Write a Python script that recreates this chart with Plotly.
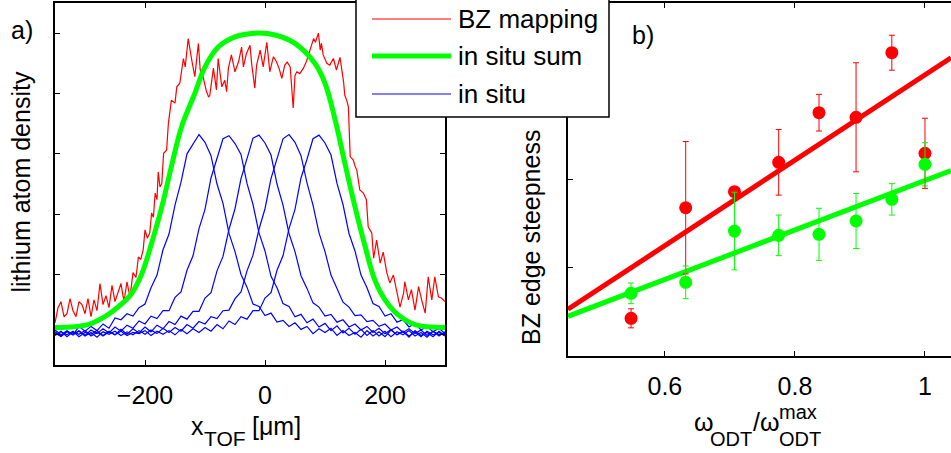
import plotly.graph_objects as go

# ---------------- panel a data (x in um, density in arb. units) ----------------
red_x = [-350, -345, -340, -335, -330, -325, -320, -315, -310, -305, -300, -295, -290, -285, -280,
         -275, -270, -265, -260, -255, -250, -245, -240, -235, -230, -225, -220, -215, -211, -207,
         -203, -200, -196, -192, -189, -186, -183, -180, -178, -175, -172, -169, -164, -161, -156,
         -150, -147, -142, -136, -133, -128, -122, -117, -111, -108, -103, -98, -94, -92, -86,
         -81, -78, -72, -67, -64, -61, -56, -50, -44, -39, -36, -31, -25, -22, -17,
         -14, -8, -3, 3, 8, 14, 19, 24, 28, 33, 37, 42, 47, 50, 53,
         58, 64, 69, 75, 81, 84, 89, 92, 94, 97, 103, 108, 114, 119, 125,
         131, 133, 136, 139, 142, 147, 150, 153, 158, 164, 169, 172, 178, 181, 186,
         192, 197, 203, 208, 214, 219, 225, 231, 233, 239, 244, 250, 256, 261, 267,
         272, 278, 283, 289, 294, 300]
red_y = [0.20, 0.45, 0.55, 0.30, 0.35, 0.60, 0.40, 0.30, 0.55, 0.50, 0.35, 0.60, 0.30, 0.58, 0.40,
         0.85, 0.50, 0.65, 0.45, 0.82, 0.55, 0.70, 0.85, 0.55, 0.88, 0.62, 1.03, 0.95, 1.29, 1.25,
         1.41, 1.74, 1.60, 1.69, 2.02, 1.95, 2.35, 2.24, 2.70, 2.45, 2.51, 3.01, 3.06, 3.51, 3.89,
         3.84, 4.11, 4.17, 4.58, 4.44, 4.91, 4.55, 4.28, 4.83, 4.39, 4.27, 4.05, 3.94, 3.97, 4.42,
         4.06, 4.58, 4.11, 4.22, 4.03, 4.42, 4.64, 4.36, 4.53, 4.77, 4.44, 4.66, 4.80, 4.47, 4.09,
         4.47, 4.72, 4.44, 4.85, 4.36, 4.61, 4.53, 4.40, 4.25, 4.47, 4.52, 4.44, 3.76, 4.30, 4.36,
         4.33, 4.42, 4.53, 4.72, 4.91, 4.85, 5.00, 4.72, 4.83, 4.64, 4.50, 4.47, 4.58, 4.39, 4.60,
         4.19, 3.97, 3.89, 3.78, 2.95, 2.90, 2.80, 2.73, 2.40, 2.35, 2.24, 1.79, 1.69, 1.27, 1.57,
         1.19, 1.37, 1.03, 0.86, 0.99, 0.75, 0.46, 0.69, 0.88, 0.58, 0.75, 0.41, 0.80, 0.58, 0.36,
         0.96, 0.58, 0.96, 0.63, 0.61, 0.55]

green_x = [-350, -295, -267, -238, -222, -205, -189, -172, -156, -139, -117, -100, -78, -50,
           -17, 17, 50, 83, 100, 117, 133, 150, 167, 183, 200, 222, 250, 300]
green_y = [0.12, 0.17, 0.30, 0.52, 0.69, 1.02, 1.52, 2.12, 2.79, 3.45, 4.00, 4.44, 4.77, 4.94,
           5.00, 4.97, 4.83, 4.50, 4.17, 3.56, 2.85, 2.12, 1.46, 0.91, 0.58, 0.33, 0.17, 0.12]

blue_x = [-350, -340, -330, -320, -310, -300, -290, -280, -270, -260, -250, -240, -230, -220,
          -210, -200, -190, -180, -170, -160, -150, -140, -130, -120, -110, -100, -90, -80,
          -70, -60, -50, -40, -30, -20, -10, 0, 10, 20, 30, 40, 50, 60, 70, 80, 90, 100,
          110, 120, 130, 140, 150, 160, 170, 180, 190, 200, 210, 220, 230, 240, 250, 260,
          270, 280, 290, 300]
blue_1 = [0.08, 0.00, 0.07, 0.00, 0.14, 0.06, 0.14, 0.07, 0.18, 0.11, 0.28, 0.25, 0.35, 0.31,
          0.45, 0.51, 0.78, 0.99, 1.41, 1.67, 2.15, 2.53, 3.00, 3.16, 3.32, 3.19, 2.97, 2.50,
          2.18, 1.68, 1.38, 1.00, 0.79, 0.51, 0.47, 0.32, 0.36, 0.21, 0.24, 0.14, 0.20, 0.09,
          0.14, 0.02, 0.10, 0.04, 0.11, -0.01, 0.07, -0.01, 0.04, -0.04, 0.07, -0.02, 0.05,
          -0.03, 0.08, 0.00, 0.06, -0.04, 0.07, -0.01, 0.04, -0.03, 0.06, -0.01]
blue_2 = [0.05, -0.02, 0.06, 0.01, 0.07, -0.01, 0.08, 0.02, 0.10, 0.03, 0.13, 0.06, 0.16, 0.11,
          0.23, 0.18, 0.31, 0.27, 0.40, 0.40, 0.62, 0.71, 1.07, 1.31, 1.76, 2.08, 2.60, 2.91,
          3.25, 3.30, 3.17, 2.99, 2.51, 2.16, 1.69, 1.39, 0.97, 0.78, 0.52, 0.47, 0.30, 0.34,
          0.20, 0.26, 0.13, 0.19, 0.07, 0.15, 0.03, 0.11, 0.01, 0.09, -0.01, 0.07, -0.02,
          0.06, -0.03, 0.05, 0.00, 0.07, -0.02, 0.04, -0.04, 0.06, 0.00, 0.03]
blue_3 = [0.00, 0.06, -0.03, 0.05, 0.01, 0.07, -0.02, 0.04, -0.01, 0.06, 0.00, 0.09, 0.01, 0.10,
          0.03, 0.13, 0.05, 0.16, 0.10, 0.22, 0.17, 0.31, 0.26, 0.39, 0.39, 0.61, 0.70, 1.06,
          1.30, 1.75, 2.09, 2.59, 2.92, 3.26, 3.31, 3.18, 2.98, 2.50, 2.15, 1.68, 1.38, 0.98,
          0.77, 0.53, 0.46, 0.31, 0.34, 0.21, 0.25, 0.13, 0.18, 0.08, 0.14, 0.04, 0.11, 0.02,
          0.09, 0.00, 0.06, -0.02, 0.05, -0.03, 0.06, 0.00, 0.04, -0.02]
blue_4 = [0.03, -0.03, 0.05, 0.00, 0.06, -0.02, 0.04, -0.04, 0.05, 0.01, 0.06, -0.01, 0.05, 0.00,
          0.07, 0.01, 0.08, 0.02, 0.11, 0.04, 0.12, 0.06, 0.17, 0.11, 0.22, 0.18, 0.30, 0.27,
          0.40, 0.41, 0.60, 0.71, 1.06, 1.32, 1.75, 2.09, 2.59, 2.93, 3.25, 3.32, 3.19, 2.97,
          2.52, 2.15, 1.69, 1.38, 0.99, 0.77, 0.54, 0.46, 0.32, 0.33, 0.22, 0.24, 0.14, 0.18,
          0.08, 0.13, 0.04, 0.10, 0.02, 0.08, -0.01, 0.06, -0.02, 0.05]
blue_5 = [-0.01, 0.05, 0.00, 0.06, -0.03, 0.04, 0.01, 0.07, -0.02, 0.05, 0.00, 0.06, -0.01, 0.04,
          0.02, 0.07, -0.01, 0.06, 0.01, 0.07, 0.00, 0.09, 0.02, 0.10, 0.04, 0.12, 0.06, 0.17,
          0.10, 0.23, 0.17, 0.30, 0.26, 0.40, 0.40, 0.61, 0.70, 1.07, 1.31, 1.76, 2.08, 2.60,
          2.91, 3.25, 3.31, 3.18, 2.98, 2.51, 2.16, 1.68, 1.39, 0.99, 0.78, 0.52, 0.47, 0.31,
          0.35, 0.21, 0.25, 0.13, 0.19, 0.08, 0.14, 0.05, 0.11, 0.02]
blue_curves = [blue_1, blue_2, blue_3, blue_4, blue_5]

# ---------------- panel b data ----------------
omega_ratio = [0.548, 0.632, 0.707, 0.775, 0.837, 0.894, 0.949, 1.000]
bz_steep = [0.427, 1.680, 1.862, 2.195, 2.757, 2.705, 3.437, 2.297]
bz_err = [0.108, 0.750, 0.050, 0.372, 0.208, 0.618, 0.198, 0.397]
insitu_steep = [0.710, 0.835, 1.416, 1.367, 1.379, 1.530, 1.775, 2.172]
insitu_err = [0.117, 0.185, 0.440, 0.230, 0.295, 0.312, 0.178, 0.245]
fit_x = [0.451, 1.040]
bz_fit = [0.53, 3.38]
insitu_fit = [0.45, 2.10]

RED = "#ff0000"
GREEN = "#00ff00"
BLUE = "#0000ff"
FONT = "Liberation Sans, Arial, Helvetica, sans-serif"

W, H = 951, 453
MT, MB = 3, 88
PH = H - MT - MB


def px(x):
    return x / W


def py(y):
    return (H - MB - y) / PH


fig = go.Figure()

for yb in blue_curves:
    fig.add_trace(go.Scatter(x=blue_x, y=yb, mode="lines", line=dict(color=BLUE, width=1.2),
                             xaxis="x", yaxis="y", showlegend=False, hoverinfo="skip"))
fig.add_trace(go.Scatter(x=red_x, y=red_y, mode="lines", line=dict(color=RED, width=1.2),
                         xaxis="x", yaxis="y", showlegend=False))
fig.add_trace(go.Scatter(x=green_x, y=green_y, mode="lines",
                         line=dict(color=GREEN, width=5, shape="spline", smoothing=1.0),
                         xaxis="x", yaxis="y", showlegend=False))

fig.add_trace(go.Scatter(x=fit_x, y=bz_fit, mode="lines", line=dict(color=RED, width=5),
                         xaxis="x2", yaxis="y2", showlegend=False))
fig.add_trace(go.Scatter(x=fit_x, y=insitu_fit, mode="lines", line=dict(color=GREEN, width=5),
                         xaxis="x2", yaxis="y2", showlegend=False))
fig.add_trace(go.Scatter(x=omega_ratio, y=bz_steep, mode="markers",
                         marker=dict(color=RED, size=13),
                         error_y=dict(type="data", array=bz_err, color=RED, thickness=1, width=3),
                         xaxis="x2", yaxis="y2", showlegend=False))
fig.add_trace(go.Scatter(x=omega_ratio, y=insitu_steep, mode="markers",
                         marker=dict(color=GREEN, size=13),
                         error_y=dict(type="data", array=insitu_err, color=GREEN, thickness=1, width=3),
                         xaxis="x2", yaxis="y2", showlegend=False))

axis_common = dict(showline=True, linecolor="black", linewidth=1.5, ticks="inside", ticklen=5,
                   tickwidth=1, tickcolor="black", showgrid=False, zeroline=False,
                   tickfont=dict(family=FONT, size=25, color="black"))

fig.update_layout(
    width=W, height=H,
    margin=dict(l=0, r=0, t=MT, b=MB),
    paper_bgcolor="white", plot_bgcolor="white",
    showlegend=False,
    xaxis=dict(domain=[px(55), px(445)], range=[-350, 300], tickvals=[-200, 0, 200],
               mirror="ticks", anchor="y", ticklabelstandoff=7, **axis_common),
    yaxis=dict(domain=[0, 1], range=[-0.5, 5.5], tickvals=[0, 1, 2, 3, 4, 5],
               showticklabels=False, mirror="ticks", anchor="x", **axis_common),
    xaxis2=dict(domain=[px(568), 1.0], range=[0.451, 1.040], tickvals=[0.6, 0.8, 1.0],
                ticktext=["0.6", "0.8", "1"], mirror="ticks", anchor="y2",
                ticklabelstandoff=7, **axis_common),
    yaxis2=dict(domain=[py(356), 1], range=[0, 4], tickvals=[1, 2, 3],
                showticklabels=False, mirror=False, anchor="x2", **axis_common),
)

# legend (drawn manually so that the sample lines match the original length)
fig.add_shape(type="rect", xref="paper", yref="paper", x0=px(356), x1=px(609), y0=py(117), y1=py(-3),
              fillcolor="white", line=dict(color="black", width=1.5), layer="above")
for yy, col, wd in [(19, RED, 1.2), (56, GREEN, 5), (94, BLUE, 1.2)]:
    fig.add_shape(type="line", xref="paper", yref="paper", x0=px(372), x1=px(451), y0=py(yy), y1=py(yy),
                  line=dict(color=col, width=wd), layer="above")

ann = []


def txt(text, x, y, size=25, xanchor="left", textangle=0):
    ann.append(dict(text=text, x=px(x), y=py(y), xref="paper", yref="paper", showarrow=False,
                    xanchor=xanchor, yanchor="middle", textangle=textangle,
                    borderpad=0, borderwidth=0,
                    font=dict(family=FONT, size=size, color="black")))


txt("BZ mapping", 458, 18.5, 26)
txt("in situ sum", 458, 56, 26)
txt("in situ", 458, 94, 26)

txt("a)", 21.5, 29.5, 25, "center")
txt("b)", 642.5, 35, 25, "center")
txt("lithium atom density", 20, 182.5, 25, "center", -90)
txt("BZ edge steepness", 531, 238, 25, "center", -90)

# x label a : x_TOF [um]
txt("x", 191, 426, 25)
txt("TOF", 204, 438, 21)
txt("[\u03bcm]", 252, 426, 25)

# x label b : omega_ODT / omega_ODT^max
txt("\u03c9", 694, 422, 25)
txt("ODT", 710, 439, 20)
txt("/\u03c9", 753, 422, 25)
txt("max", 779, 412, 20)
txt("ODT", 779, 439, 20)

fig.update_layout(annotations=ann)

fig.write_html(
    "out.html",
    config={"displayModeBar": False},
    post_script="document.body.style.margin='0';document.body.style.padding='0';"
                "document.body.style.overflow='hidden';",
)
